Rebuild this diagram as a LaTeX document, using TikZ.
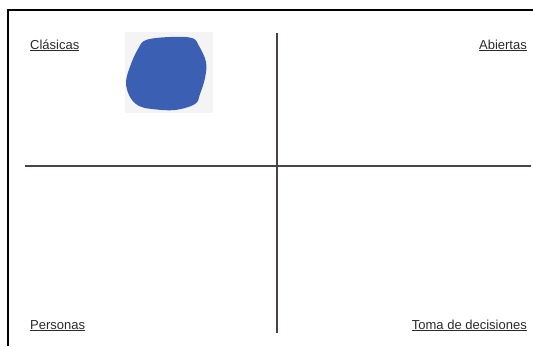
\documentclass[tikz,border=0pt]{standalone}
\usepackage{fontspec}
\setmainfont{Liberation Sans}
\usepackage{tikz}
\usetikzlibrary{positioning,calc}

\definecolor{axisgray}{HTML}{4A4242}
\definecolor{labelgray}{HTML}{2A2A2A}
\definecolor{blobblue}{HTML}{3B5FB2}

\tikzset{
  quadlabel/.style={text=labelgray, font=\fontsize{13}{14}\selectfont, inner sep=0pt},
  axis/.style={draw=axisgray, line width=1.6pt}
}

\begin{document}
\begin{tikzpicture}[x=1pt,y=-1pt]
\useasboundingbox[fill=white] (0,0) rectangle (533,346);
% frame
\draw[black, line width=1.3pt] (533,10) -- (8,10) -- (8,346);
% axes
\coordinate (top) at (277,33);
\coordinate (bottom) at (277,333);
\coordinate (left) at (25,166);
\coordinate (right) at (531,166);
\draw[axis] (left) -- (right);
\draw[axis] (top) -- (bottom);
% blob
\fill[gray!9] (125,32) rectangle (213,113);
\fill[blobblue] plot[smooth cycle, tension=0.6] coordinates {(146,40) (170,37) (192,38) (199,46) (206,62) (205,78) (200,94) (195,104) (175,110) (152,109) (139,106) (130,97) (126,82) (131,64) (138,49)};
% labels
\node[quadlabel, anchor=base west] (clasicas) at (30,49) {\underline{Clásicas}};
\node[quadlabel, anchor=base east] (abiertas) at (527,49) {\underline{Abiertas}};
\node[quadlabel, anchor=base west] (personas) at (30,329) {\underline{Personas}};
\node[quadlabel, anchor=base east] (toma) at (527,329) {\underline{Toma de decisiones}};
\end{tikzpicture}
\end{document}
